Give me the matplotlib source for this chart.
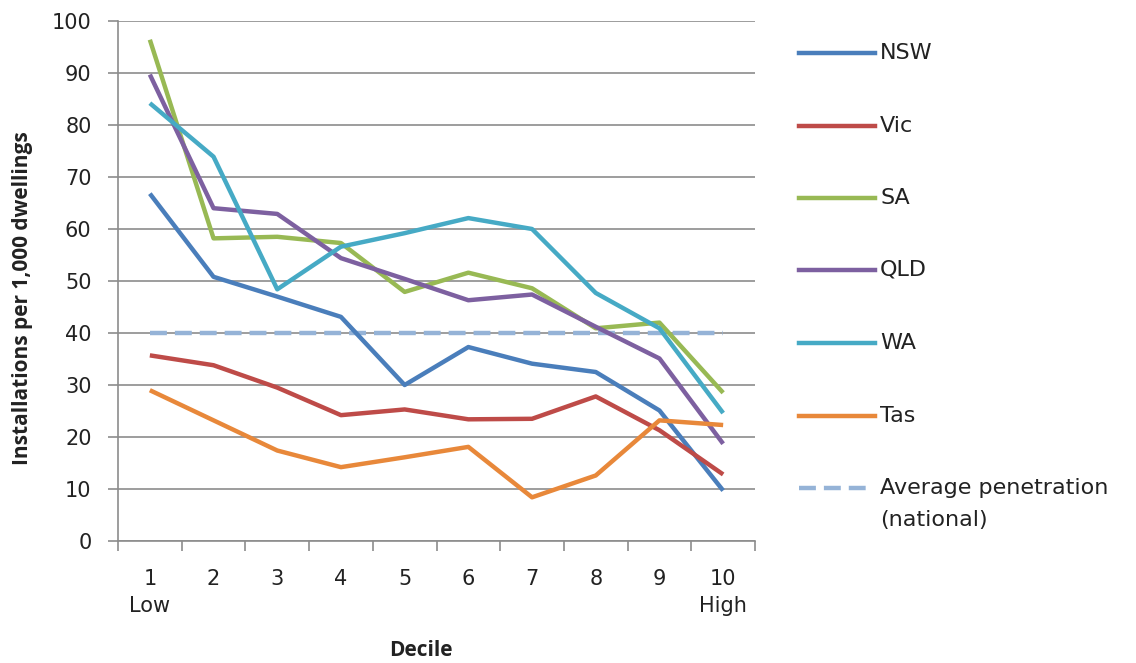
import matplotlib
matplotlib.use("Agg")
import matplotlib.pyplot as plt
from matplotlib.lines import Line2D
from matplotlib.ticker import MultipleLocator, FixedLocator

deciles = [1, 2, 3, 4, 5, 6, 7, 8, 9, 10]
tick_labels = ["1\nLow", "2", "3", "4", "5", "6", "7", "8", "9", "10\nHigh"]

nsw = [66.8, 50.8, 47.0, 43.1, 30.0, 37.3, 34.1, 32.5, 25.1, 9.7]
vic = [35.7, 33.8, 29.5, 24.2, 25.3, 23.4, 23.5, 27.8, 21.3, 12.8]
sa = [96.4, 58.2, 58.5, 57.3, 47.9, 51.6, 48.6, 40.9, 42.0, 28.5]
qld = [89.7, 64.0, 62.9, 54.4, 50.4, 46.3, 47.4, 41.2, 35.1, 18.7]
wa = [84.2, 73.9, 48.4, 56.6, 59.2, 62.1, 60.0, 47.7, 40.9, 24.6]
tas = [29.0, 23.2, 17.4, 14.2, 16.1, 18.1, 8.4, 12.6, 23.2, 22.3]
avg_penetration = 40.0

series_names = ["NSW", "Vic", "SA", "QLD", "WA", "Tas"]
series_values = [nsw, vic, sa, qld, wa, tas]
series_colors = ["#4A7EBB", "#BE4B48", "#98B954", "#7D60A0", "#46AAC5", "#E8883A"]
avg_label = "Average penetration\n(national)"
avg_color = "#95B3D7"

plt.rcParams['font.family'] = ['DejaVu Sans']
W, H = 1136, 663

fig = plt.figure(figsize=(W / 100, H / 100), dpi=100)
ax = fig.add_axes([118 / W, 1 - 541 / H, (755 - 118) / W, (541 - 21) / H])

LW = 3.2
dash = (0, (3.8, 1.8))
for name, vals, col in zip(series_names, series_values, series_colors):
    ax.plot(deciles, vals, color=col, lw=LW, solid_capstyle='butt', zorder=3)
ax.plot(deciles, [avg_penetration] * len(deciles), color=avg_color, lw=LW,
        ls=dash, zorder=2)

ax.set_xlim(0.5, 10.5)
ax.set_ylim(0, 100)
ax.yaxis.set_major_locator(MultipleLocator(10))
ax.grid(axis='y', color='#8c8c8c', lw=1.2, zorder=0)
ax.set_axisbelow(True)

ax.set_xticks(deciles)
ax.set_xticklabels(tick_labels, linespacing=1.45)
ax.xaxis.set_minor_locator(FixedLocator([x + 0.5 for x in range(0, 11)]))
ax.tick_params(axis='x', which='major', length=0, pad=20, labelsize=15, labelcolor='#222222')
ax.tick_params(axis='x', which='minor', length=7, color='#8c8c8c', width=1.2)
ax.tick_params(axis='y', which='major', length=7, color='#8c8c8c', width=1.2,
               labelsize=15, pad=12, labelcolor='#222222')

for s in ['top', 'right']:
    ax.spines[s].set_visible(False)
for s in ['left', 'bottom']:
    ax.spines[s].set_color('#8c8c8c')
    ax.spines[s].set_linewidth(1.2)

ax.set_ylabel("Installations per 1,000 dwellings", fontsize=15, fontweight='bold',
              family=['Open Sans', 'DejaVu Sans'], color='#222222')
ax.yaxis.set_label_coords((33 - 118) / 637, 0.468)
ax.set_xlabel("Decile", fontsize=15, fontweight='bold',
              family=['Open Sans', 'DejaVu Sans'], color='#222222')
ax.xaxis.set_label_coords((421 - 118) / 637, (541 - 640) / 520)

# legend, drawn by hand to match the spacing of the original
LFS = 16
leg_y = [52.7, 126, 198.3, 270, 342.7, 416]
for y, name, col in zip(leg_y, series_names, series_colors):
    fig.add_artist(Line2D([799 / W, 875 / W], [1 - y / H, 1 - y / H], color=col, lw=LW,
                          transform=fig.transFigure))
    fig.text(880 / W, 1 - y / H, name, fontsize=LFS, va='center', ha='left', color='#222222')
y = 488.3
fig.add_artist(Line2D([799 / W, 867 / W], [1 - y / H, 1 - y / H], color=avg_color, lw=LW,
                      ls=dash, transform=fig.transFigure))
fig.text(880 / W, 1 - y / H, avg_label.split("\n")[0], fontsize=LFS, va='center', ha='left', color='#222222')
fig.text(880 / W, 1 - 520 / H, avg_label.split("\n")[1], fontsize=LFS, va='center', ha='left', color='#222222')

fig.savefig("out.png", dpi=100)
